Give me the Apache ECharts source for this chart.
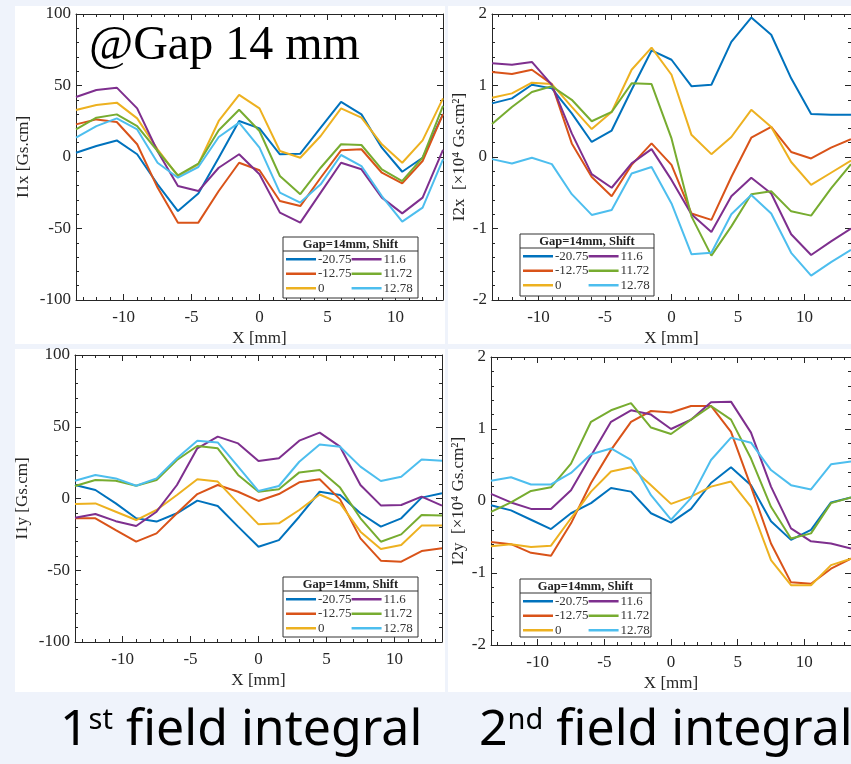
<!DOCTYPE html>
<html>
<head>
<meta charset="utf-8">
<script src="https://cdn.jsdelivr.net/npm/echarts@6/dist/echarts.min.js"></script>
<style>
html,body{margin:0;padding:0;background:#eff3fb;}
#main{width:851px;height:764px;}
</style>
</head>
<body>
<div id="main"></div>
<script>
// ---------- data ----------
const xPos = [-13.5, -12, -10.5, -9, -7.5, -6, -4.5, -3, -1.5, 0, 1.5, 3, 4.5, 6, 7.5, 9, 10.5, 12, 13.5];
const shiftNames = ['-20.75', '-12.75', '0', '11.6', '11.72', '12.78'];
const xTickLabels = [-10, -5, 0, 5, 10];
const xMinorTicks = [-13,-12,-11,-10,-9,-8,-7,-6,-5,-4,-3,-2,-1,0,1,2,3,4,5,6,7,8,9,10,11,12,13];

// I1x [Gs.cm]
const i1x_m2075 = [3, 7.7, 11.6, 1.9, -19.1, -37.8, -25.6, -0.5, 25.2, 20, 1.9, 2.3, 20.5, 38.5, 29.8, 6.5, -10.3, -0.5, 30];
const i1x_m1275 = [22.8, 26.3, 24.5, 8.9, -21.4, -45.9, -45.9, -23.8, -4, -9.3, -30.8, -34.3, -14.5, 4.7, 5.4, -11, -18.4, -2.8, 30];
const i1x_0     = [32.9, 36.4, 38, 27, 5.4, -13.3, -5.1, 25.2, 43.4, 34, 4.2, -0.5, 14.7, 34, 27.5, 8.9, -4, 11.6, 41];
const i1x_116   = [42, 46.9, 48.5, 34, 4, -20.3, -23.8, -7.5, 1.9, -12.1, -38.9, -45.9, -24.9, -4, -8.6, -28.4, -39.4, -28.4, 5];
const i1x_1172  = [19.3, 27.5, 29.8, 21.6, 4.2, -12.9, -4.7, 18.7, 33, 18.2, -13.3, -26, -7.5, 8.9, 8.4, -8.6, -16.8, -0.5, 35.7];
const i1x_1278  = [13.5, 21.6, 27, 19.3, -4, -14.5, -7, 14, 24, 6.5, -24.9, -31.9, -19.1, 1.4, -6.3, -27.3, -45.2, -35.4, -1.6];

// I2x [x10^4 Gs.cm^2]
const i2x_m2075 = [0.75, 0.82, 1.01, 0.96, 0.61, 0.21, 0.37, 0.94, 1.49, 1.36, 0.99, 1.01, 1.61, 1.95, 1.71, 1.10, 0.60, 0.59, 0.59];
const i2x_m1275 = [1.19, 1.16, 1.22, 1.02, 0.19, -0.28, -0.55, -0.11, 0.19, -0.11, -0.79, -0.88, -0.28, 0.27, 0.42, 0.07, -0.02, 0.13, 0.25];
const i2x_0     = [0.83, 0.89, 1.04, 1.02, 0.70, 0.39, 0.63, 1.22, 1.53, 1.15, 0.31, 0.04, 0.28, 0.66, 0.42, -0.07, -0.39, -0.22, -0.05];
const i2x_116   = [1.31, 1.29, 1.33, 1.01, 0.33, -0.24, -0.43, -0.09, 0.11, -0.32, -0.80, -1.05, -0.55, -0.29, -0.51, -1.08, -1.37, -1.18, -1.0];
const i2x_1172  = [0.46, 0.70, 0.91, 0.99, 0.80, 0.50, 0.63, 1.03, 1.02, 0.26, -0.83, -1.38, -0.97, -0.52, -0.48, -0.76, -0.82, -0.44, -0.1];
const i2x_1278  = [-0.03, -0.09, -0.01, -0.10, -0.52, -0.81, -0.74, -0.23, -0.14, -0.65, -1.36, -1.34, -0.80, -0.53, -0.79, -1.34, -1.66, -1.47, -1.3];

// I1y [Gs.cm]
const i1y_m2075 = [9.4, 5.9, -3.4, -13.8, -16.1, -10.3, -1.5, -5.2, -19.6, -33.6, -29, -12.7, 4.7, 2.4, -10.3, -19.6, -13.8, 0.6, 3.6];
const i1y_m1275 = [-13.8, -13.8, -22, -30.1, -24.3, -10.3, 3.1, 9.4, 4.7, -1.7, 3.1, 11.3, 13.4, -0.6, -27.8, -43.3, -44, -36.6, -34.7];
const i1y_0     = [-3.8, -3.4, -9.2, -15, -8, 2.4, 13.4, 11.8, -3.4, -18, -17.3, -8, 2.8, -3.4, -23.1, -35.2, -32.4, -18.9, -18.9];
const i1y_116   = [-13.4, -10.8, -15.8, -19.2, -9.2, 9.4, 35, 43.1, 38.4, 26.1, 28, 40.3, 45.9, 36.1, 9.4, -4.8, -4.5, 1.3, -5];
const i1y_1172  = [8.7, 12.9, 12.4, 8.9, 12.9, 26.8, 36.6, 35, 16.4, 4.7, 6.5, 18.2, 19.9, 7.6, -13.8, -30.1, -25, -11.5, -11.9];
const i1y_1278  = [12.4, 16.4, 14, 8.9, 14, 28, 40.3, 39.1, 22.2, 5.2, 8.7, 25.6, 37.7, 36.1, 22.2, 12.2, 15.2, 27.2, 26.3];

// I2y [x10^4 Gs.cm^2]
const i2y_m2075 = [-0.06, -0.13, -0.26, -0.39, -0.17, -0.03, 0.18, 0.13, -0.17, -0.30, -0.11, 0.25, 0.47, 0.22, -0.28, -0.54, -0.40, -0.02, 0.05];
const i2y_m1275 = [-0.57, -0.60, -0.72, -0.76, -0.31, 0.25, 0.71, 1.10, 1.25, 1.23, 1.32, 1.32, 0.96, 0.20, -0.59, -1.13, -1.15, -0.94, -0.8];
const i2y_0     = [-0.63, -0.60, -0.64, -0.62, -0.24, 0.13, 0.41, 0.47, 0.22, -0.04, 0.06, 0.20, 0.27, -0.08, -0.82, -1.17, -1.17, -0.89, -0.8];
const i2y_116   = [0.10, -0.02, -0.11, -0.11, 0.15, 0.63, 1.10, 1.26, 1.20, 1.00, 1.13, 1.37, 1.38, 0.95, 0.20, -0.38, -0.56, -0.59, -0.66];
const i2y_1172  = [-0.15, -0.02, 0.14, 0.19, 0.52, 1.10, 1.26, 1.36, 1.02, 0.93, 1.13, 1.32, 1.13, 0.59, -0.08, -0.52, -0.45, -0.03, 0.05];
const i2y_1278  = [0.28, 0.33, 0.23, 0.23, 0.39, 0.65, 0.73, 0.57, 0.08, -0.26, 0.04, 0.57, 0.88, 0.81, 0.43, 0.22, 0.16, 0.51, 0.55];

const panelSeries = [
  [i1x_m2075, i1x_m1275, i1x_0, i1x_116, i1x_1172, i1x_1278],
  [i2x_m2075, i2x_m1275, i2x_0, i2x_116, i2x_1172, i2x_1278],
  [i1y_m2075, i1y_m1275, i1y_0, i1y_116, i1y_1172, i1y_1278],
  [i2y_m2075, i2y_m1275, i2y_0, i2y_116, i2y_1172, i2y_1278]
];
const yNames = ['I1x [Gs.cm]', 'I2x  [×10⁴ Gs.cm²]', 'I1y [Gs.cm]', 'I2y  [×10⁴ Gs.cm²]'];
const legendTitle = 'Gap=14mm, Shift';

// ---------- style / layout ----------
const colors = ['#0072BD', '#D95319', '#EDB120', '#7E2F8E', '#77AC30', '#4DBEEE'];
const axisColor = '#262626';
const serif = 'Liberation Serif';
const panels = [
  {grid: {left: 76, top: 14, width: 367, height: 286}, yMin: -100, yMax: 100, yInt: 50, nameGap: 44, box: {x: 283, y: 237, w: 135, h: 61}},
  {grid: {left: 492, top: 14, width: 379, height: 286}, yMin: -2, yMax: 2, yInt: 1, nameGap: 24, box: {x: 520, y: 234, w: 134, h: 62}},
  {grid: {left: 75, top: 355, width: 367, height: 287}, yMin: -100, yMax: 100, yInt: 50, nameGap: 44, box: {x: 283, y: 577, w: 135, h: 60}},
  {grid: {left: 491, top: 357, width: 375, height: 288}, yMin: -2, yMax: 2, yInt: 1, nameGap: 24, box: {x: 520, y: 579, w: 131, h: 58}}
];

const grid = [], xAxis = [], yAxis = [], series = [], legend = [];
const graphic = [
  {type: 'rect', shape: {x: 15, y: 6, width: 430, height: 338}, style: {fill: '#ffffff'}, z: -10},
  {type: 'rect', shape: {x: 448, y: 6, width: 403, height: 338}, style: {fill: '#ffffff'}, z: -10},
  {type: 'rect', shape: {x: 15, y: 349, width: 430, height: 343}, style: {fill: '#ffffff'}, z: -10},
  {type: 'rect', shape: {x: 448, y: 349, width: 403, height: 343}, style: {fill: '#ffffff'}, z: -10}
];
const lineSt = {color: axisColor, width: 1};

panels.forEach((p, gi) => {
  grid.push(Object.assign({containLabel: false}, p.grid));
  const xBase = xAxis.length;
  const xCommon = {gridIndex: gi, type: 'value', min: -13.5, max: 13.5, splitLine: {show: false}};
  xAxis.push(Object.assign({}, xCommon, {
    position: 'bottom',
    axisLine: {show: true, onZero: false, lineStyle: lineSt},
    axisTick: {show: true, inside: true, length: 6, customValues: xTickLabels, lineStyle: lineSt},
    axisLabel: {show: true, customValues: xTickLabels, fontFamily: serif, fontSize: 17, color: axisColor, margin: 9},
    name: 'X [mm]', nameLocation: 'middle', nameGap: 30,
    nameTextStyle: {fontFamily: serif, fontSize: 17, color: axisColor}
  }));
  xAxis.push(Object.assign({}, xCommon, {
    position: 'top',
    axisLine: {show: true, onZero: false, lineStyle: lineSt},
    axisTick: {show: true, inside: true, length: 6, customValues: xTickLabels, lineStyle: lineSt},
    axisLabel: {show: false}
  }));
  xAxis.push(Object.assign({}, xCommon, {
    position: 'bottom',
    axisLine: {show: false, onZero: false},
    axisTick: {show: true, inside: true, length: 3, customValues: xMinorTicks, lineStyle: lineSt},
    axisLabel: {show: false}
  }));
  xAxis.push(Object.assign({}, xCommon, {
    position: 'top',
    axisLine: {show: false, onZero: false},
    axisTick: {show: true, inside: true, length: 3, customValues: xMinorTicks, lineStyle: lineSt},
    axisLabel: {show: false}
  }));
  const yBase = yAxis.length;
  const yCommon = {gridIndex: gi, type: 'value', min: p.yMin, max: p.yMax, interval: p.yInt, splitLine: {show: false}};
  yAxis.push(Object.assign({}, yCommon, {
    position: 'left',
    axisLine: {show: true, onZero: false, lineStyle: lineSt},
    axisTick: {show: true, inside: true, length: 6, lineStyle: lineSt},
    minorTick: {show: true, splitNumber: 5, length: 3, lineStyle: lineSt},
    axisLabel: {show: true, fontFamily: serif, fontSize: 17, color: axisColor, margin: 5},
    name: yNames[gi], nameLocation: 'middle', nameGap: p.nameGap, nameRotate: 90,
    nameTextStyle: {fontFamily: serif, fontSize: 17, color: axisColor}
  }));
  yAxis.push(Object.assign({}, yCommon, {
    position: 'right',
    axisLine: {show: true, onZero: false, lineStyle: lineSt},
    axisTick: {show: true, inside: true, length: 6, lineStyle: lineSt},
    minorTick: {show: true, splitNumber: 5, length: 3, lineStyle: lineSt},
    axisLabel: {show: false}
  }));

  panelSeries[gi].forEach((arr, si) => {
    series.push({
      type: 'line', name: shiftNames[si], xAxisIndex: xBase, yAxisIndex: yBase,
      data: xPos.map((x, i) => [x, arr[i]]),
      symbol: 'none', color: colors[si],
      lineStyle: {width: 2, color: colors[si]},
      emphasis: {disabled: true}, animation: false, z: 3
    });
  });

  const b = p.box;
  graphic.push({type: 'rect', shape: {x: b.x, y: b.y, width: b.w, height: b.h},
    style: {fill: '#ffffff', stroke: '#333333', lineWidth: 1}, z: 10});
  graphic.push({type: 'line', shape: {x1: b.x, y1: b.y + 14, x2: b.x + b.w, y2: b.y + 14},
    style: {stroke: '#333333', lineWidth: 1}, z: 11});
  graphic.push({type: 'text', x: b.x + b.w / 2, y: b.y + 7.5,
    style: {text: legendTitle, font: 'bold 12.5px "Liberation Serif"', fill: '#222', align: 'center', verticalAlign: 'middle'}, z: 11});
  legend.push({
    orient: 'vertical', left: b.x + 3, top: b.y + 15, height: 44,
    itemWidth: 30, itemHeight: 2.5, itemGap: 0, icon: 'rect', padding: 0,
    selectedMode: false, z: 20,
    data: shiftNames,
    textStyle: {fontFamily: serif, fontSize: 13, color: '#333', lineHeight: 14.5, padding: [0, 0, 0, -3]}
  });
});

const bigRich = {
  a: {fontFamily: 'Noto Sans', fontSize: 50, fontWeight: 'normal', color: '#000'},
  s: {fontFamily: 'Noto Sans', fontSize: 29, fontWeight: 'normal', color: '#000', verticalAlign: 'top'}
};

const option = {
  animation: false,
  backgroundColor: '#eff3fb',
  grid, xAxis, yAxis, series, legend, graphic,
  title: [
    {text: '@Gap 14 mm', left: 89, top: 22, padding: 0,
     textStyle: {fontFamily: serif, fontSize: 48, fontWeight: 'normal', color: '#000'}},
    {text: '{a|1}{s|st}{a| field integral}', left: 60, top: 706, padding: 0,
     textStyle: {fontWeight: 'normal', rich: bigRich}},
    {text: '{a|2}{s|nd}{a| field integral}', left: 479, top: 706, padding: 0,
     textStyle: {fontWeight: 'normal', rich: bigRich}}
  ]
};

const chart = echarts.init(document.getElementById('main'), null, {renderer: 'canvas'});
chart.setOption(option);
</script>
</body>
</html>
